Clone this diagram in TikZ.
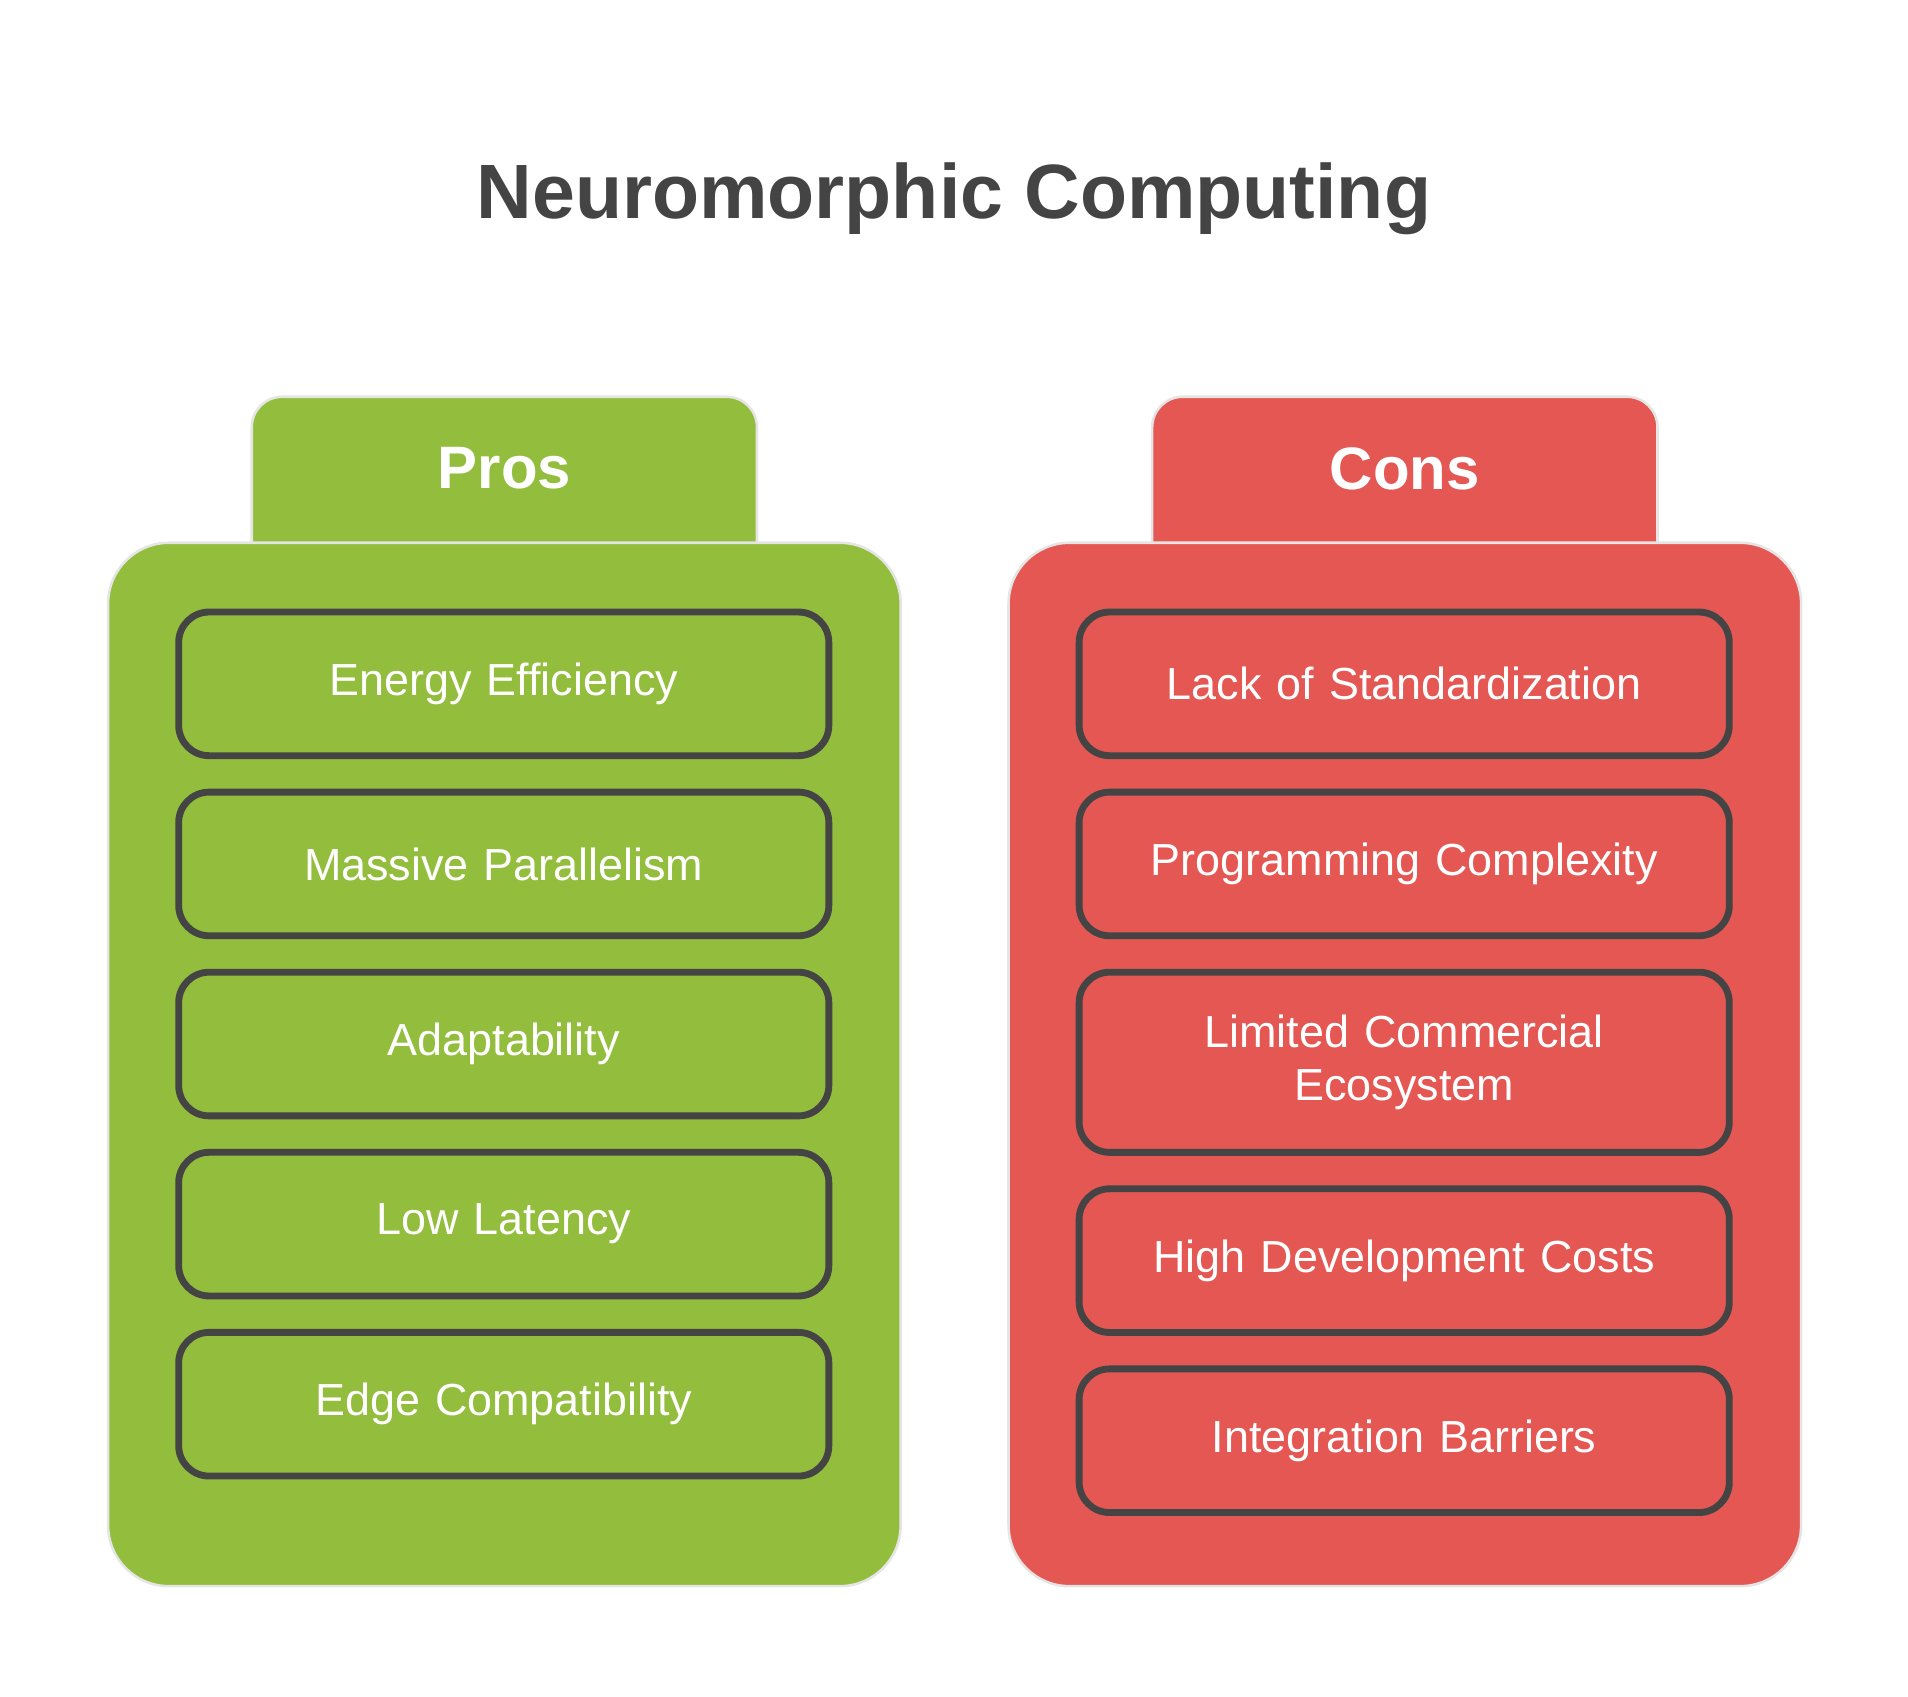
\documentclass[tikz,border=0pt]{standalone}
\usepackage{fontspec}
\setmainfont{Liberation Sans}
\definecolor{progreen}{HTML}{93BD3C}
\definecolor{conred}{HTML}{E55753}
\definecolor{inkgray}{HTML}{444444}
\tikzset{
  tab/.style={draw=black!10, line width=0.6pt, rounded corners=0.25cm, minimum width=4.15cm, minimum height=1.45cm, inner sep=0pt},
  body/.style={draw=black!10, line width=0.6pt, rounded corners=0.5cm, minimum width=6.51cm, minimum height=8.57cm, inner sep=0pt},
  item/.style={draw=inkgray, line width=1.6pt, rounded corners=0.25cm, minimum width=5.34cm, minimum height=1.18cm, text width=5cm, align=center, text=white, font=\fontsize{10.5pt}{12.5pt}\selectfont},
  head/.style={text=white, font=\bfseries\fontsize{14pt}{16pt}\selectfont}
}
\begin{document}
\begin{tikzpicture}[x=0.01cm,y=-0.01cm]
\useasboundingbox (0,0) rectangle (1568,1394.6);
\node[text=inkgray, font=\bfseries\fontsize{18pt}{20pt}\selectfont] (title) at (784,163) {Neuromorphic Computing};

% pros
\node[tab, fill=progreen, anchor=north] (prostab) at (414.5,325) {};
\node[body, fill=progreen, anchor=north] (prosbody) at (414.5,445) {};
\node[head] (proshead) at (414.5,385) {Pros};
\node[item] (p1) at (414,562) {Energy Efficiency};
\node[item] (p2) at (414,710) {Massive Parallelism};
\node[item] (p3) at (414,858) {Adaptability};
\node[item] (p4) at (414,1006) {Low Latency};
\node[item] (p5) at (414,1154) {Edge Compatibility};

% cons
\node[tab, fill=conred, anchor=north] (constab) at (1154.5,325) {};
\node[body, fill=conred, anchor=north] (consbody) at (1154.5,445) {};
\node[head] (conshead) at (1154.5,385) {Cons};
\node[item] (c1) at (1154,562) {Lack of Standardization};
\node[item] (c2) at (1154,710) {Programming Complexity};
\node[item, minimum height=1.48cm] (c3) at (1154,873) {Limited Commercial\\Ecosystem};
\node[item] (c4) at (1154,1036) {High Development Costs};
\node[item] (c5) at (1154,1184) {Integration Barriers};
\end{tikzpicture}
\end{document}
